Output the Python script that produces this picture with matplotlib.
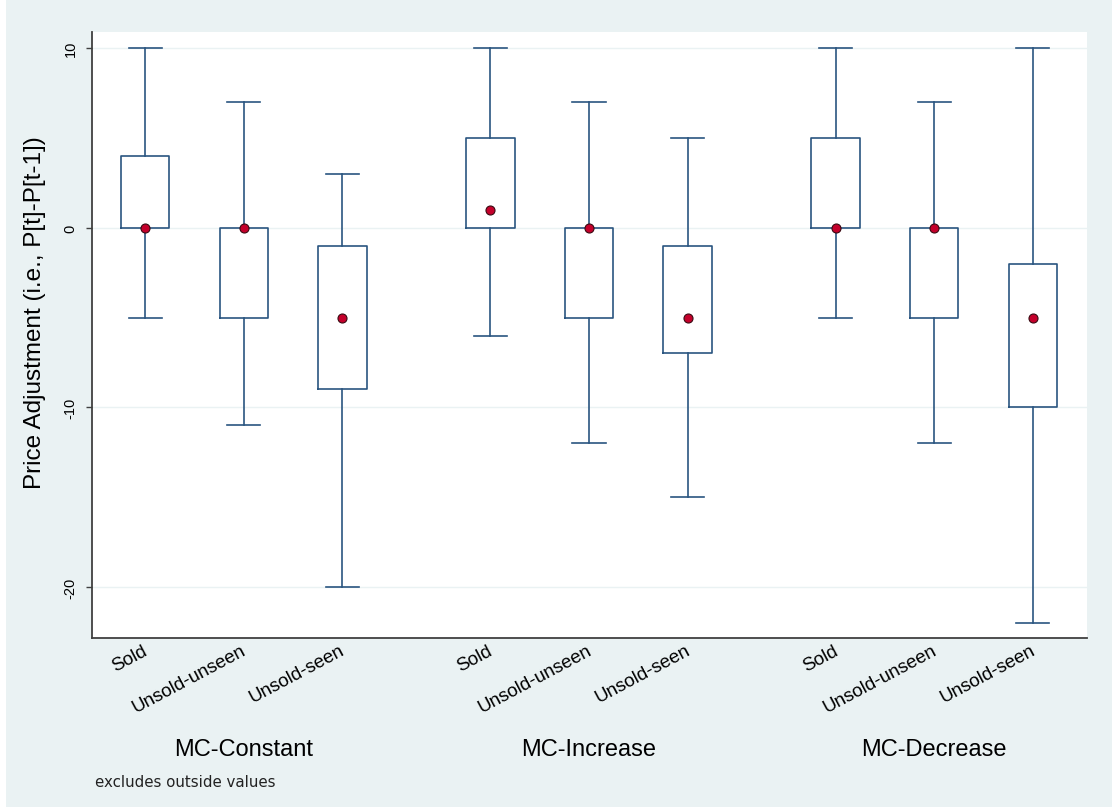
import matplotlib
matplotlib.use("Agg")
import matplotlib.pyplot as plt
from matplotlib.patches import Rectangle

# Price adjustment summaries (whiskers, quartiles, median) per treatment/category
groups = ["MC-Constant", "MC-Increase", "MC-Decrease"]
categories = ["Sold", "Unsold-unseen", "Unsold-seen"]

whisker_low = [-5, -11, -20, -6, -12, -15, -5, -12, -22]
q1 = [0, -5, -9, 0, -5, -7, 0, -5, -10]
median = [0, 0, -5, 1, 0, -5, 0, 0, -5]
q3 = [4, 0, -1, 5, 0, -1, 5, 0, -2]
whisker_high = [10, 7, 3, 10, 7, 5, 10, 7, 10]

y_ticks = [-20, -10, 0, 10]

W, H = 1117, 812
fig = plt.figure(figsize=(W / 100, H / 100), dpi=100, facecolor="white")
plt.rcParams["font.family"] = ["Liberation Sans", "DejaVu Sans"]

bg = "#EAF2F3"
fig.patches.append(Rectangle((6 / W, 4 / H), (1112 - 6) / W, (811 - 4) / H,
                             transform=fig.transFigure, facecolor=bg,
                             edgecolor="none", zorder=-10))

ax = fig.add_axes([92 / W, (H - 639) / H, (1087 - 92) / W, (639 - 33) / H])
ax.set_facecolor("white")

# positions: three boxes per group, a wider gap between groups
positions = []
for g in range(len(groups)):
    for c in range(len(categories)):
        positions.append(g * 3.5 + c)

stats = []
for i in range(len(positions)):
    stats.append(dict(whislo=whisker_low[i], q1=q1[i], med=median[i],
                      q3=q3[i], whishi=whisker_high[i], fliers=[]))

line_col = "#2A5580"
lw = 1.2
ax.bxp(stats, positions=positions, widths=0.49, showfliers=False,
       manage_ticks=False,
       boxprops=dict(color=line_col, linewidth=lw),
       whiskerprops=dict(color=line_col, linewidth=lw),
       capprops=dict(color=line_col, linewidth=lw),
       medianprops=dict(linewidth=0),
       capwidths=0.335, zorder=3)

ax.plot(positions, median, linestyle="none", marker="o", markersize=6.5,
        markerfacecolor="#C4002B", markeredgecolor="#3A0A12",
        markeredgewidth=0.8, zorder=4)

ax.set_xlim(-0.54, 9.55)
ax.set_ylim(-22.84, 10.9)

ax.set_yticks(y_ticks)
ax.set_yticklabels([str(t) for t in y_ticks], rotation=90, va="center",
                   fontsize=10.5)
ax.tick_params(axis="y", length=4.3, width=1.0, color="#404040", pad=6)
ax.set_xticks([])
ax.grid(axis="y", color=bg, linewidth=1.0, zorder=0)
ax.set_axisbelow(True)

for side in ["top", "right"]:
    ax.spines[side].set_visible(False)
for side in ["left", "bottom"]:
    ax.spines[side].set_color("#404040")
    ax.spines[side].set_linewidth(1.3)

# category labels, slanted under each box
for i, p in enumerate(positions):
    ax.annotate(categories[i % 3], xy=(p, 0), xycoords=("data", "axes fraction"),
                xytext=(-2, -2.5), textcoords="offset points",
                ha="right", va="top", rotation=28, rotation_mode="anchor",
                fontsize=13.5)

# group labels
for g, name in enumerate(groups):
    ax.annotate(name, xy=(g * 3.5 + 1, 0), xycoords=("data", "axes fraction"),
                xytext=(0, -80), textcoords="offset points",
                ha="center", va="center", fontsize=17)

fig.text(35 / W, 1 - 313 / H, "Price Adjustment (i.e., P[t]-P[t-1])",
         rotation=90, ha="center", va="center", fontsize=17.5)

fig.text(95 / W, 1 - 783 / H, "excludes outside values", ha="left",
         va="center", fontsize=10.8, family=["DejaVu Sans"], color="#222222")

fig.savefig("out.png", dpi=100, facecolor=fig.get_facecolor())
